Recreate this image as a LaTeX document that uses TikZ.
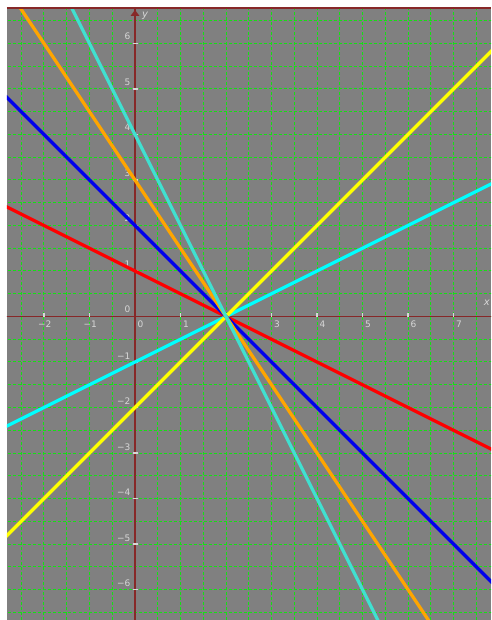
\documentclass[tikz,border=0pt]{standalone}
\usepackage{fontspec}
\setmainfont{DejaVu Sans}
\definecolor{bggray}{RGB}{128,128,128}
\definecolor{gridgreen}{RGB}{20,225,20}
\definecolor{axiscol}{RGB}{135,40,40}
\definecolor{labcol}{RGB}{215,215,215}
\definecolor{turq}{RGB}{64,224,208}
\definecolor{orng}{RGB}{255,165,0}
\definecolor{blu}{RGB}{0,0,235}
\definecolor{cyn}{RGB}{0,255,255}
\definecolor{ylw}{RGB}{255,255,0}
\definecolor{rd}{RGB}{255,0,0}
\tikzset{
  gridline/.style={gridgreen, line width=1pt, dash pattern=on 3pt off 2pt},
  axisline/.style={axiscol, line width=1.4pt},
  tickmark/.style={labcol, line width=1.3pt},
  ticklab/.style={labcol, inner sep=0pt, font=\fontsize{9}{9}\selectfont},
  graph/.style={line width=3.2pt}
}
\begin{document}
\begin{tikzpicture}[x=45.5pt,y=45.5pt]
\useasboundingbox (-135pt,-303.5pt) rectangle (356pt,316.5pt);
\fill[white] (-135pt,-303.5pt) rectangle (356pt,316.5pt);
\fill[bggray] (-128pt,-303.5pt) rectangle (356pt,308.5pt);
\begin{scope}
\clip (-128pt,-303.5pt) rectangle (356pt,308.5pt);
% grid
\foreach \i in {-2.5,-2,...,7.5} \draw[gridline] (\i,-7) -- (\i,7);
\foreach \j in {-6.5,-6,...,6.5} \draw[gridline] (-3,\j) -- (8,\j);
% axes
\draw[axisline] (-3,0) -- (8,0);
\draw[axisline] (0,-7) -- (0,7);
% ticks and labels
\foreach \n in {-2,-1,1,2,3,4,5,6,7} \draw[tickmark] ([yshift=-1pt]\n,0) -- ([yshift=3.5pt]\n,0);
\foreach \n in {-6,...,-1,1,2,3,4,5,6} \draw[tickmark] ([xshift=-2.5pt]0,\n) -- ([xshift=2.5pt]0,\n);
\foreach \n in {0,...,7} \node[ticklab, anchor=north west, xshift=2.5pt, yshift=-4.5pt] (xl\n) at (\n,0) {\n};
\node[ticklab, anchor=north west, xshift=1.5pt, yshift=-4.5pt] (xlm2) at (-2,0) {\llap{−}2};
\node[ticklab, anchor=north west, xshift=1.5pt, yshift=-4.5pt] (xlm1) at (-1,0) {\llap{−}1};
\foreach \n in {0,...,6} \node[ticklab, anchor=south east, xshift=-4.5pt, yshift=3.5pt] (yl\n) at (0,\n) {\n};
\foreach \n in {1,...,6} \node[ticklab, anchor=south east, xshift=-4.5pt, yshift=2.5pt] (ylm\n) at (0,-\n) {−\n};
\node[labcol, inner sep=0pt, font=\fontsize{10}{10}\selectfont\itshape, anchor=center] (ylab) at (10pt,301pt) {y};
\node[labcol, inner sep=0pt, font=\fontsize{10}{10}\selectfont\itshape, anchor=east] (xlab) at (355pt,14pt) {x};
% graphs through (2,0)
\coordinate (P) at (2,0);
\draw[graph, rd] (-3,2.5) -- (P) -- (8,-3);
\draw[graph, cyn] (-3,-2.5) -- (P) -- (8,3);
\draw[graph, ylw] (-3,-5) -- (P) -- (8,6);
\draw[graph, blu] (-3,5) -- (P) -- (8,-6);
\draw[graph, orng] (-3,7.5) -- (P) -- (8,-9);
\draw[graph, turq] (-3,10) -- (P) -- (8,-12);
\end{scope}
% top border and y arrow
\draw[axiscol, line width=2pt] (-128pt,308.5pt) -- (356pt,308.5pt);
\fill[axiscol] (0,306.5pt) -- (-4.5pt,300.5pt) -- (4.5pt,300.5pt) -- cycle;
\end{tikzpicture}
\end{document}
